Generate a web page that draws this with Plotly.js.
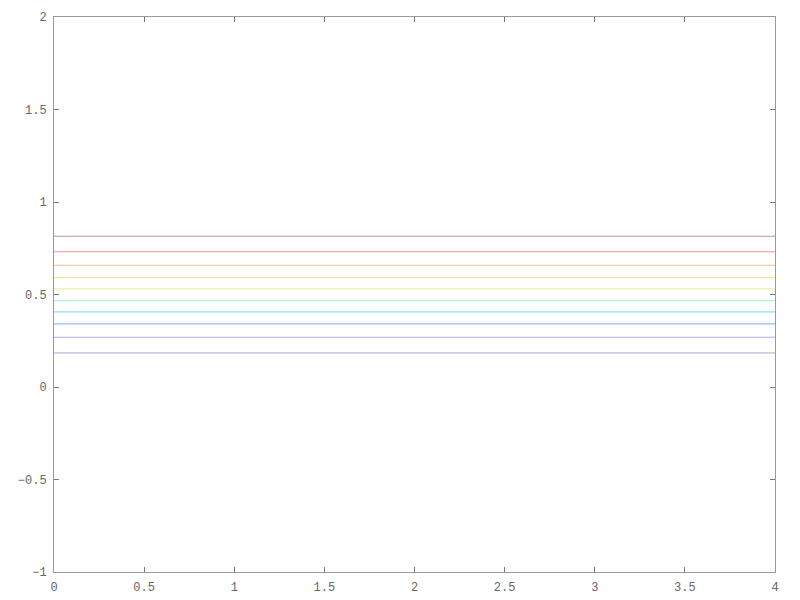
<!DOCTYPE html>
<html>
<head>
<meta charset="utf-8">
<script src="https://cdn.plot.ly/plotly-3.0.1.min.js"></script>
<style>html,body{margin:0;padding:0;background:#fff;}#chart{width:800px;height:600px;}</style>
</head>
<body>
<div id="chart"></div>
<script>
var xValues = [0, 4];
var levels = [0.815, 0.731, 0.657, 0.591, 0.530, 0.467, 0.406, 0.341, 0.269, 0.185];
var lineColors = ['#c89098', '#f09090', '#ffc8a8', '#f4e890', '#e0f4b0', '#b0f0dc', '#90e0f4', '#90bcf8', '#b0b0f0', '#b8b8d8'];

var traces = levels.map(function (v, i) {
  return {
    type: 'scatter',
    mode: 'lines',
    x: xValues,
    y: xValues.map(function () { return v; }),
    line: { color: lineColors[i], width: 1.2 },
    hoverinfo: 'skip',
    showlegend: false
  };
});

var axisCommon = {
  showgrid: false,
  zeroline: false,
  showline: true,
  linecolor: '#999',
  linewidth: 1,
  mirror: 'allticks',
  ticks: 'inside',
  ticklen: 5,
  tickcolor: '#777',
  ticklabelstandoff: 4,
  tickfont: { family: 'Liberation Mono, DejaVu Sans Mono, monospace', size: 12, color: '#666' }
};

var layout = {
  width: 800,
  height: 600,
  margin: { l: 54, r: 25, t: 17, b: 28 },
  paper_bgcolor: '#fff',
  plot_bgcolor: '#fff',
  showlegend: false,
  xaxis: Object.assign({}, axisCommon, { range: [0, 4], dtick: 0.5, tick0: 0 }),
  yaxis: Object.assign({}, axisCommon, { range: [-1, 2], dtick: 0.5, tick0: 0 })
};

Plotly.newPlot('chart', traces, layout, { staticPlot: true, displayModeBar: false });
</script>
</body>
</html>
